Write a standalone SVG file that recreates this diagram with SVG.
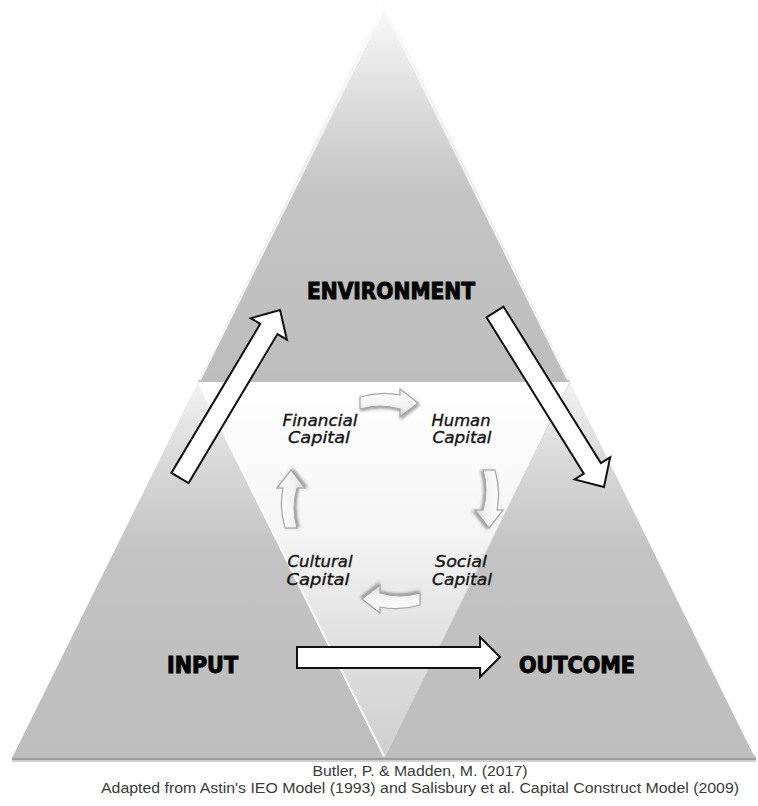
<svg xmlns="http://www.w3.org/2000/svg" width="758" height="806" viewBox="0 0 758 806">
<defs>
  <linearGradient id="gTop" gradientUnits="userSpaceOnUse" x1="0" y1="4" x2="0" y2="382">
    <stop offset="0" stop-color="#fbfbfb"/>
    <stop offset="0.28" stop-color="#dadada"/>
    <stop offset="0.5" stop-color="#c4c4c4"/>
    <stop offset="1" stop-color="#bdbdbd"/>
  </linearGradient>
  <linearGradient id="gSide" gradientUnits="userSpaceOnUse" x1="0" y1="382" x2="0" y2="758">
    <stop offset="0" stop-color="#f2f2f2"/>
    <stop offset="0.22" stop-color="#d8d8d8"/>
    <stop offset="0.45" stop-color="#c3c3c3"/>
    <stop offset="1" stop-color="#bdbdbd"/>
  </linearGradient>
  <linearGradient id="gInner" gradientUnits="userSpaceOnUse" x1="0" y1="382" x2="0" y2="758">
    <stop offset="0" stop-color="#ffffff"/>
    <stop offset="0.4" stop-color="#f5f5f5"/>
    <stop offset="0.7" stop-color="#e0e0e0"/>
    <stop offset="1" stop-color="#cfcfcf"/>
  </linearGradient>
  <linearGradient id="gCurve" x1="0" y1="0" x2="0" y2="1">
    <stop offset="0" stop-color="#ffffff"/>
    <stop offset="0.6" stop-color="#f2f2f2"/>
    <stop offset="1" stop-color="#d4d4d4"/>
  </linearGradient>
  <filter id="soft" x="-30%" y="-30%" width="160%" height="160%">
    <feGaussianBlur in="SourceAlpha" stdDeviation="1.5"/>
    <feOffset dx="1" dy="2" result="b"/>
    <feFlood flood-color="#5a5a5a" flood-opacity="0.6"/>
    <feComposite in2="b" operator="in" result="s"/>
    <feMerge><feMergeNode in="s"/><feMergeNode in="SourceGraphic"/></feMerge>
  </filter>
  <path id="curveArrow" d="M0,0 Q20,-6 40,-2 L40,-8 L58,6 L40,20 L40,12 Q20,6 0,12 Z"/>
  <style>
    .big { fill: #ffffff; stroke: #111111; stroke-width: 2; stroke-linejoin: miter; }
    .curve { fill: url(#gCurve); stroke: #a6a6a6; stroke-width: 1.2; filter: url(#soft); }
    .head { font-family: "DejaVu Sans Condensed", "DejaVu Sans", sans-serif; font-weight: bold; font-size: 23px; fill: #050505; stroke: #050505; stroke-width: 1; }
    .cap { font-family: "DejaVu Sans", sans-serif; font-style: italic; font-size: 15.5px; fill: #141414; stroke: #141414; stroke-width: 0.35; text-anchor: middle; }
    .note { font-family: "Liberation Sans", Arial, sans-serif; font-size: 14px; fill: #3a3a3a; text-anchor: middle; }
    .bevel { fill: none; stroke: #ffffff; stroke-width: 2; stroke-opacity: 0.85; }
  </style>
</defs>

<rect width="758" height="806" fill="#ffffff"/>

<g id="base-shadow">
  <rect x="12" y="757" width="744" height="3" fill="#9c9c9c"/>
  <rect x="12" y="760" width="744" height="2" fill="#d0d0d0"/>
</g>

<g id="environment">
  <polygon points="384,4 570,382 198,382" fill="url(#gTop)"/>
  <polyline class="bevel" points="200,380 384,8 568,380"/>
  <text class="head" x="307" y="299" textLength="168" lengthAdjust="spacingAndGlyphs">ENVIRONMENT</text>
</g>

<g id="input">
  <polygon points="198,382 384,758 12,758" fill="url(#gSide)"/>
  <text class="head" x="167" y="673" textLength="71" lengthAdjust="spacingAndGlyphs">INPUT</text>
</g>

<g id="outcome">
  <polygon points="570,382 756,758 384,758" fill="url(#gSide)"/>
  <line class="bevel" x1="572" y1="384" x2="754" y2="754"/>
  <text class="head" x="519" y="673" textLength="116" lengthAdjust="spacingAndGlyphs">OUTCOME</text>
</g>

<g id="capitals">
  <polygon points="198,382 570,382 384,758" fill="url(#gInner)"/>
  <line class="bevel" x1="199" y1="384" x2="384" y2="756"/>
  <line x1="570" y1="382" x2="384" y2="758" stroke="#d6d6d6" stroke-width="1"/>
</g>

<g id="financial-capital">
  <text class="cap" x="320" y="426" textLength="75" lengthAdjust="spacingAndGlyphs">Financial</text>
  <text class="cap" x="319" y="443" textLength="62" lengthAdjust="spacingAndGlyphs">Capital</text>
</g>
<g id="human-capital">
  <text class="cap" x="461" y="426" textLength="59" lengthAdjust="spacingAndGlyphs">Human</text>
  <text class="cap" x="462" y="443" textLength="59" lengthAdjust="spacingAndGlyphs">Capital</text>
</g>
<g id="social-capital">
  <text class="cap" x="461" y="567" textLength="52" lengthAdjust="spacingAndGlyphs">Social</text>
  <text class="cap" x="462" y="585" textLength="60" lengthAdjust="spacingAndGlyphs">Capital</text>
</g>
<g id="cultural-capital">
  <text class="cap" x="320" y="567" textLength="65" lengthAdjust="spacingAndGlyphs">Cultural</text>
  <text class="cap" x="318" y="585" textLength="63" lengthAdjust="spacingAndGlyphs">Capital</text>
</g>

<g id="connectors">
  <polygon class="big" transform="translate(180,478) rotate(-59.2)" points="0,-10 173.5,-10 173.5,-21 195.5,0 173.5,21 173.5,10 0,10"/>
  <polygon class="big" transform="translate(495,312) rotate(58.1)" points="0,-10 184.2,-10 184.2,-21 206.2,0 184.2,21 184.2,10 0,10"/>
  <polygon class="big" points="297,647 480,647 480,637 500,657 480,677 480,668 297,668"/>
  <use href="#curveArrow" class="curve" transform="translate(360,397)"/>
  <use href="#curveArrow" class="curve" transform="translate(495,470) rotate(90)"/>
  <use href="#curveArrow" class="curve" transform="translate(420,605) rotate(180)"/>
  <use href="#curveArrow" class="curve" transform="translate(285,528) rotate(-90)"/>
</g>

<g id="caption">
  <text class="note" x="420" y="776" textLength="215" lengthAdjust="spacingAndGlyphs">Butler, P. &amp; Madden, M. (2017)</text>
  <text class="note" x="420" y="793" textLength="638" lengthAdjust="spacingAndGlyphs">Adapted from Astin's IEO Model (1993) and Salisbury et al. Capital Construct Model (2009)</text>
</g>
</svg>
